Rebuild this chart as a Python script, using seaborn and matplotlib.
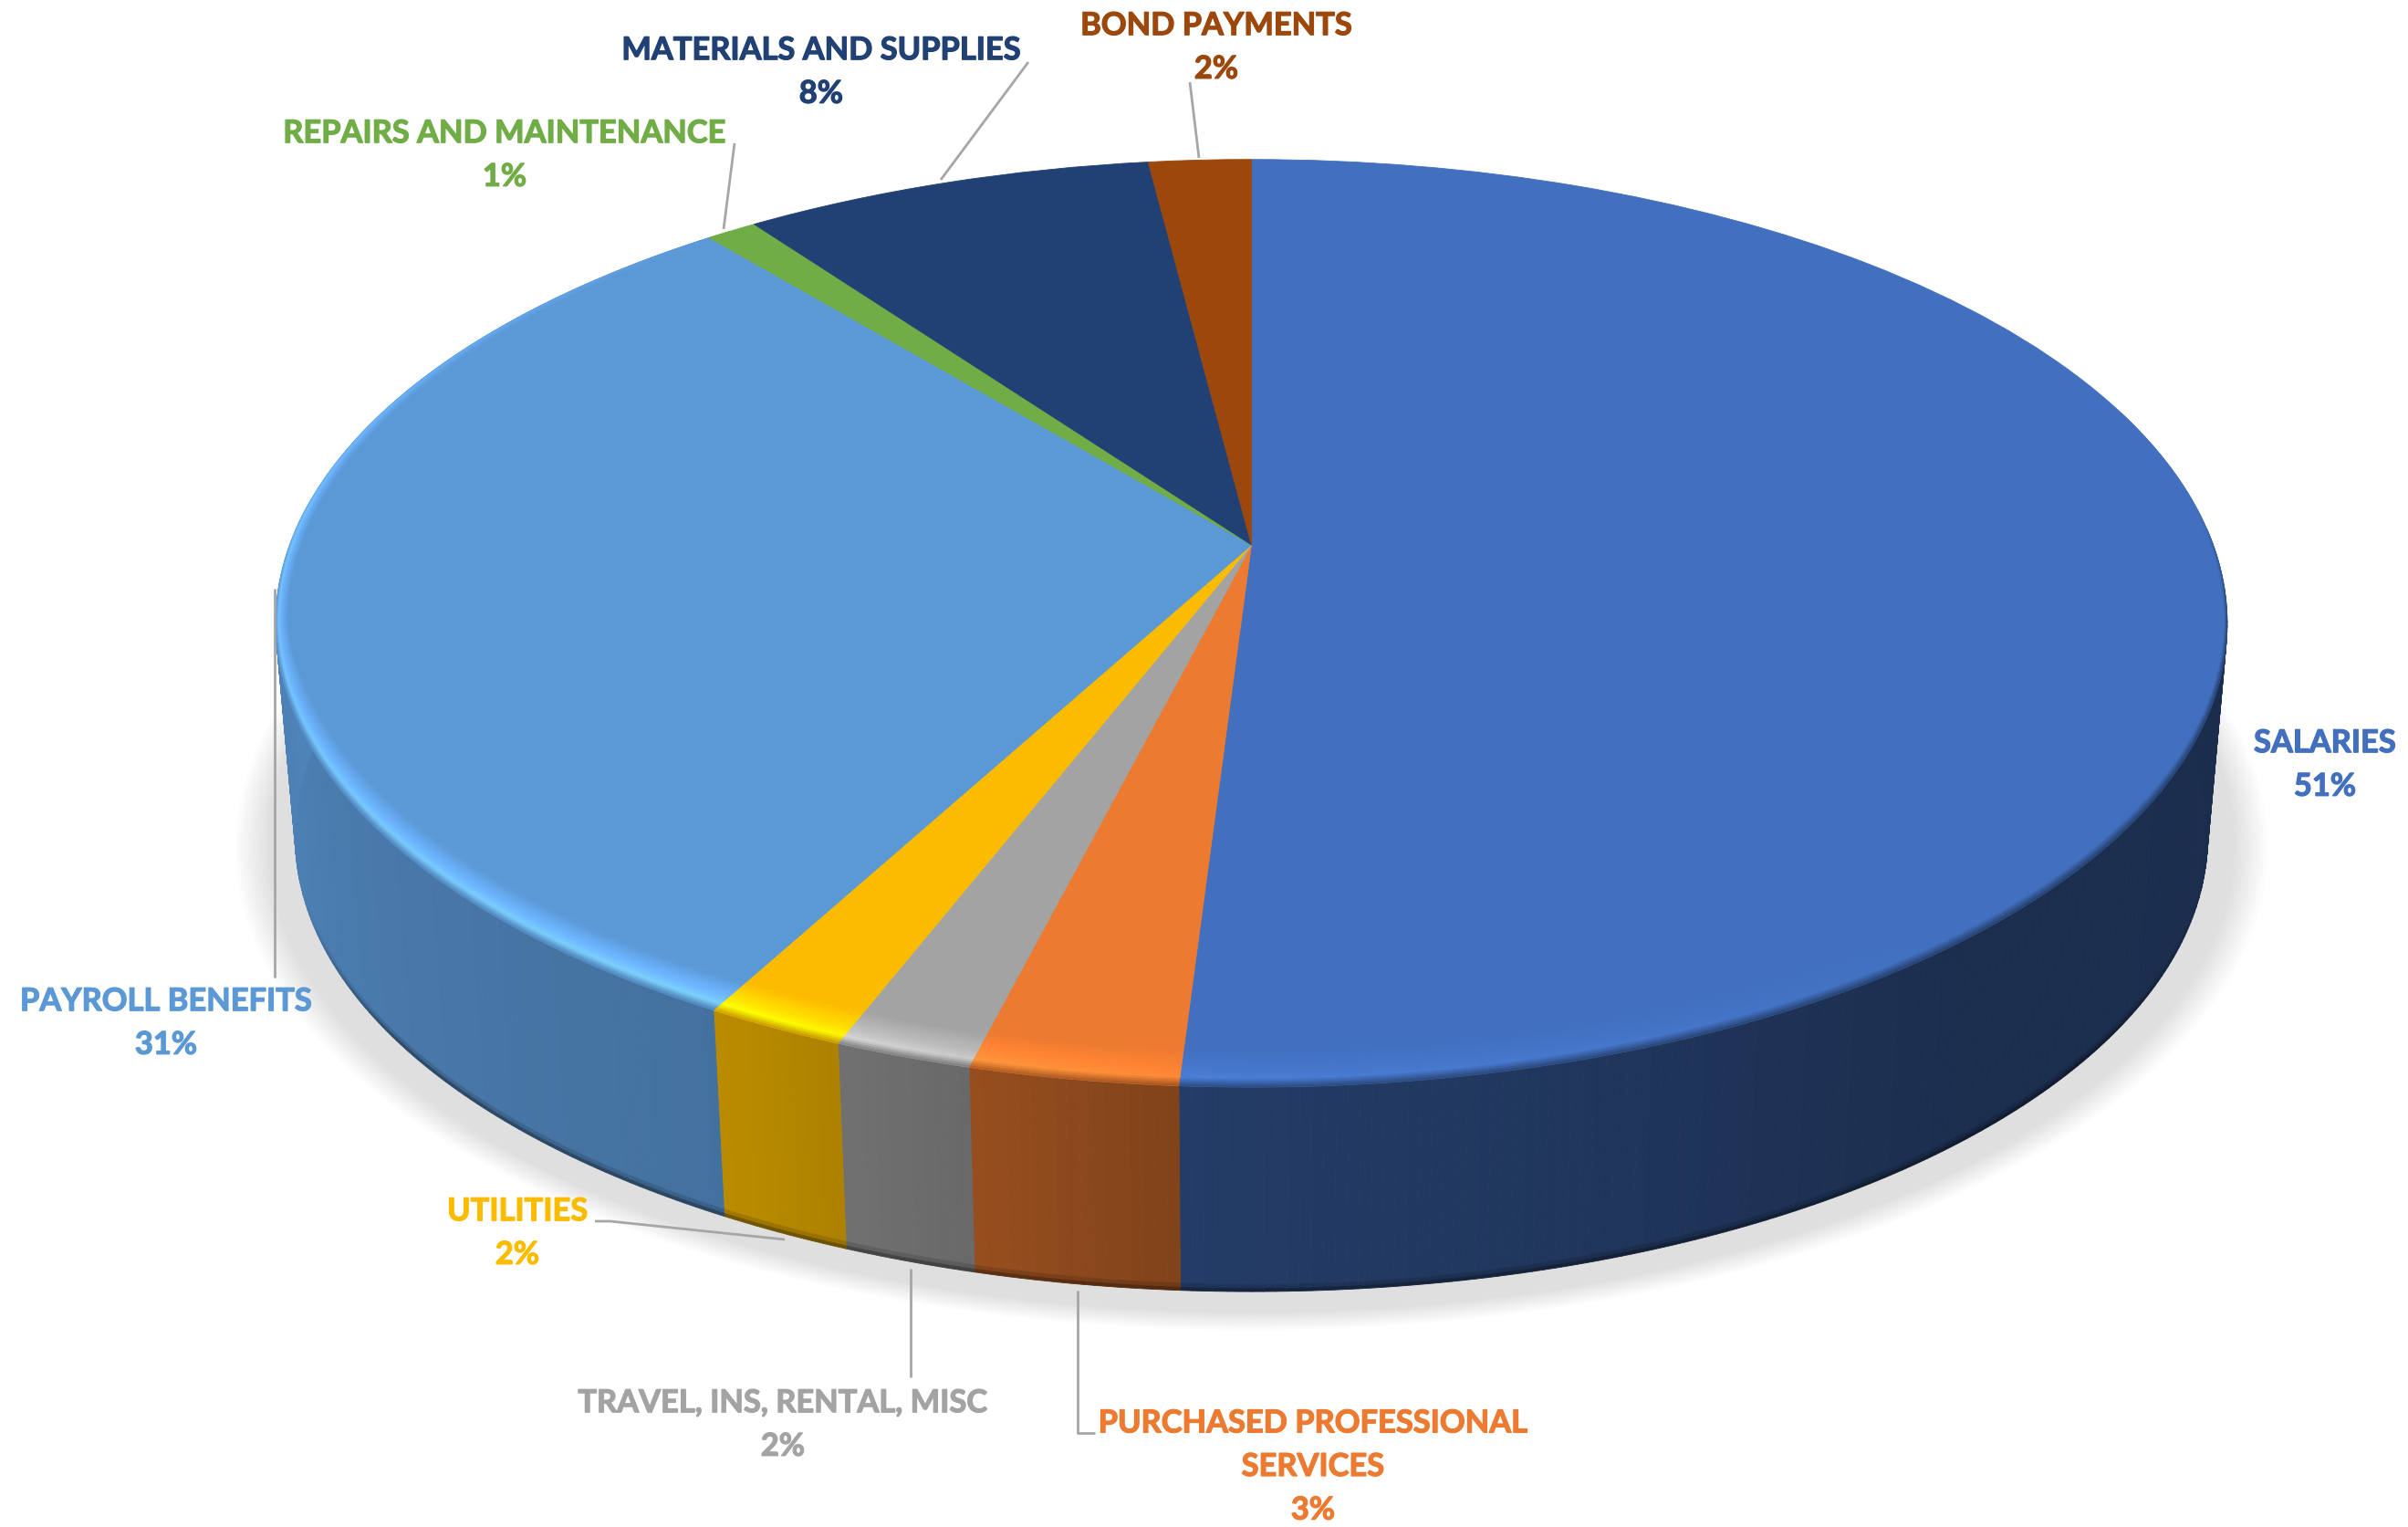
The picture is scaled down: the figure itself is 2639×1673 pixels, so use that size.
import numpy as np
import seaborn as sns
import matplotlib
matplotlib.use("Agg")
import matplotlib.pyplot as plt
import matplotlib.patheffects as pe
import matplotlib.transforms as mtransforms
from matplotlib.collections import PolyCollection

# ---- data ----
categories = ["SALARIES", "PURCHASED PROFESSIONAL\nSERVICES", "TRAVEL, INS, RENTAL, MISC",
              "UTILITIES", "PAYROLL BENEFITS", "REPAIRS AND MAINTENANCE",
              "MATERIALS AND SUPPLIES", "BOND PAYMENTS"]
shares = [51, 2.95, 1.95, 2.0, 31.1, 1, 8, 2]
slice_colors = ["#4270BF", "#EC7A30", "#A3A3A3", "#FBBC00", "#5B98D6", "#70AD47", "#214074", "#9C470C"]
label_centers = [(2548, 838), (1439, 1607), (858, 1561), (567, 1351),
                 (182, 1121), (553, 170), (900, 79), (1333, 52)]
leaders = [None,
           [(1181, 1414), (1181, 1570), (1200, 1570)],
           [(998, 1390), (998, 1509)],
           [(652, 1338), (669, 1338), (860, 1358)],
           [(301, 645), (301, 1071)],
           [(805, 157), (793, 251)],
           [(1127, 68), (1031, 197)],
           [(1304, 90), (1314, 173)]]

# ---- projection of the unit pie disc onto the page ----
CX, CY, C, A, K = 1371.5, 597.0, 1054.0, -392.8, 0.1689
DEPTH, SCALE = 236.0, 0.98


def project(u, v):
    w = 1 + K * v
    return CX + C * u / w, (A * v + CY) / w


def project_base(u, v, grow=0.0):
    x, y = project(u, v)
    return CX + (SCALE + grow) * (x - CX), CY + DEPTH + (SCALE + grow) * (y - CY)


class Perspective(mtransforms.Transform):
    input_dims = output_dims = 2

    def transform_non_affine(self, values):
        values = np.asarray(values, dtype=float)
        return np.column_stack(project(values[:, 0], values[:, 1]))


sns.set_theme(style="white")
plt.rcParams["font.family"] = ["Lato", "DejaVu Sans"]
palette = sns.color_palette(slice_colors)

fig = plt.figure(figsize=(26.39, 16.73), dpi=100, facecolor="white")
ax = fig.add_axes([0, 0, 1, 1])

# top face: a real pie, pushed through the perspective transform
wedges, _ = ax.pie(shares, colors=palette, startangle=90, counterclock=False, radius=1,
                   wedgeprops=dict(linewidth=0.6, zorder=3))
for wedge, col in zip(wedges, palette):
    wedge.set_transform(Perspective() + ax.transData)
    wedge.set_edgecolor(col)

ax.set_aspect("auto")
ax.set_xlim(0, 2639)
ax.set_ylim(1673, 0)
ax.axis("off")

edges = np.concatenate([[0], np.cumsum(shares)]) * 3.6

# soft ground shadow
ring = np.radians(np.linspace(0, 360, 361))
for grow in np.linspace(0.062, 0.028, 16):
    sx, sy = project_base(np.sin(ring), np.cos(ring), grow)
    ax.fill(sx, sy + 6, color="black", alpha=0.0078, lw=0, zorder=1)


def side_shade(t):
    return np.interp(t, [90, 140, 183, 194, 208, 270], [0.40, 0.41, 0.54, 0.64, 0.74, 0.87])


def slice_spans(lo, hi, step):
    """Angular sub-steps per slice, each slice's first and last step landing on its own edges."""
    for i, col in enumerate(palette):
        a, b = max(edges[i], lo), min(edges[i + 1], hi)
        if b > a:
            grid = np.linspace(a, b, max(2, int((b - a) / step) + 1))
            for t0, t1 in zip(grid[:-1], grid[1:]):
                yield np.array(col), t0, t1


def mix(p, q, s):
    return (p[0] + (q[0] - p[0]) * s, p[1] + (q[1] - p[1]) * s)


# side wall
quads, fills = [], []
rows = [(0.0, 0.965, 1.0), (0.965, 0.985, 0.86), (0.985, 1.0, 0.62)]
for base, a, b in slice_spans(88, 276, 0.6):
    mid = (a + b) / 2
    col = base * side_shade(mid)
    ra, rb = np.radians([a, b])
    top_a, top_b = project(np.sin(ra), np.cos(ra)), project(np.sin(rb), np.cos(rb))
    bot_a, bot_b = project_base(np.sin(ra), np.cos(ra)), project_base(np.sin(rb), np.cos(rb))
    front = np.interp(mid, [105, 125, 235, 252], [0, 1, 1, 0])
    for lo, hi, dark in rows:
        quads.append([mix(top_a, bot_a, lo), mix(top_b, bot_b, lo), mix(top_b, bot_b, hi), mix(top_a, bot_a, hi)])
        fills.append(tuple(col * (1 - front * (1 - dark))))
ax.add_collection(PolyCollection(quads, facecolors=fills, edgecolors=fills, linewidths=0.6, zorder=2))


# lit bevel along the front of the top face
def band_point(t, q):
    r = np.radians(t)
    v = np.cos(r)
    w = np.clip((-v - K) / (1 - K), 0, 1)
    rad = 1 - q * (0.013 + 0.045 * w)
    return project(rad * np.sin(r), rad * v)


def band_colour(base, t, q):
    strength = np.interp(t, [140, 184, 200, 208, 270, 300, 322], [0, 0.35, 0.8, 1.0, 0.72, 0.3, 0])
    peak = np.interp(q, [0, 0.18, 0.45, 1.0], [0.45, 1.0, 0.55, 0.0])
    col = np.clip(base * (1 + 0.42 * strength * peak), 0, 1)
    seen = np.clip((-np.cos(np.radians(t)) - K + 0.25) * 4, 0, 1)
    blur = np.interp(q, [0, 0.25], [0.75, 0.0]) * seen
    dark = base * side_shade(np.clip(t, 90, 270))
    return tuple(col * (1 - blur) + dark * blur)


quads, fills = [], []
qs = np.linspace(0, 1, 19)
for base, a, b in slice_spans(72, 322, 0.8):
    for q0, q1 in zip(qs[:-1], qs[1:]):
        quads.append([band_point(a, q0), band_point(b, q0), band_point(b, q1), band_point(a, q1)])
        fills.append(band_colour(base, (a + b) / 2, (q0 + q1) / 2))
ax.add_collection(PolyCollection(quads, facecolors=fills, edgecolors=fills, linewidths=0.4, zorder=4))

# leader lines and labels
for path in leaders:
    if path:
        xs, ys = zip(*path)
        ax.plot(xs, ys, color="#A6A6A6", lw=2.0, solid_capstyle="butt", zorder=5)

for name, share, (lx, ly), col in zip(categories, shares, label_centers, palette):
    ax.text(lx, ly, f"{name}\n{share:.0f}%", color=col, ha="center", va="center", multialignment="center",
            fontsize=24.8, fontweight="bold", linespacing=1.6, zorder=6,
            path_effects=[pe.withStroke(linewidth=0.9, foreground=col)])

fig.savefig("out.png", dpi=100, facecolor="white")
